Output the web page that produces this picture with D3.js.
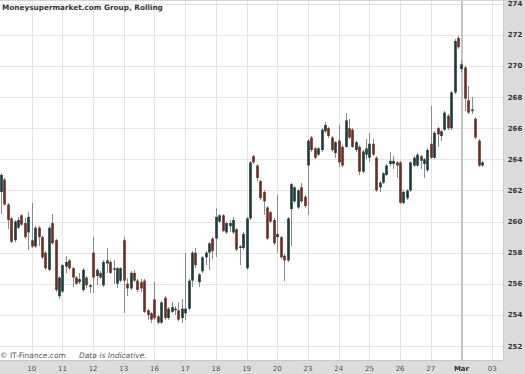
<!DOCTYPE html>
<html lang="en">
<head>
  <meta charset="UTF-8" />
  <title>Moneysupermarket.com Group, Rolling</title>
  <script src="https://d3js.org/d3.v7.min.js"></script>
  <style>
    body { margin: 0; padding: 0; background: #fff; }
    svg { display: block; }
    .grid line { stroke: #e4e4e4; stroke-width: 1px; shape-rendering: crispEdges; }
    .wick { stroke: #8a8a8a; stroke-width: 1px; shape-rendering: crispEdges; }
    .ylab { font: bold 7px "DejaVu Sans", sans-serif; fill: #333; }
    .xlab { font: 7px "DejaVu Sans", sans-serif; fill: #555; }
    .foot { font: 7.5px "DejaVu Sans", sans-serif; fill: #555; }
    .title { font: bold 7.3px "DejaVu Sans", sans-serif; fill: #333; }
  </style>
</head>
<body>
<svg id="chart" width="525" height="374"></svg>
<script>
  // hourly candles, 9 per trading day, from 9 Feb to 2 Mar
  const dayLabels = ["10","11","12","13","16","17","18","19","20","23","24","25","26","27","Mar","03"];
  const slotsPerDay = 9;
  const yTicks = [252,254,256,258,260,262,264,266,268,270,272,274];

  const open = [
    261.9,262.7,261.1,260.2,258.8,259.6,260.4,259.9,259.3,
    258.8,258.4,259.6,259.0,258.0,256.9,259.9,258.8,255.2,
    255.5,257.1,257.5,257.0,256.4,256.1,255.6,256.4,255.8,
    258.0,256.5,256.7,255.9,257.3,257.4,256.9,256.0,256.2,
    258.8,256.0,255.7,256.7,256.2,256.1,256.2,254.3,254.1,
    255.0,253.9,253.5,255.1,253.8,254.2,254.3,254.3,253.8,
    254.1,254.4,256.2,258.0,256.1,256.8,257.7,258.0,258.9,
    258.9,260.0,260.4,259.3,259.7,259.3,259.5,258.3,258.3,
    257.0,260.2,264.2,263.6,262.6,261.9,260.9,260.6,260.1,
    259.0,259.0,257.8,257.5,260.8,261.3,260.9,262.2,261.6,
    263.6,265.4,264.7,264.3,264.6,265.8,266.0,265.4,264.4,
    265.2,264.8,264.8,266.0,265.9,264.6,264.8,263.2,264.3,
    264.1,265.0,264.1,262.2,262.5,263.0,263.7,263.7,263.8,
    263.8,261.2,261.5,262.0,263.6,263.6,264.2,263.7,263.3,
    265.0,264.1,266.0,265.5,265.9,266.8,266.0,268.3,271.8,
    269.8,269.9,267.8,267.1,266.6,265.2,263.6
  ];
  const high = [
    263.1,262.8,261.2,260.3,260.1,260.3,260.5,260.2,260.6,
    261.2,259.7,259.7,259.1,258.1,259.7,260.5,258.9,256.5,
    257.3,257.8,257.6,257.1,256.5,256.7,257.0,256.5,256.0,
    259.0,257.0,256.8,257.5,258.3,257.5,257.5,257.1,257.1,
    259.0,256.4,256.8,256.9,256.3,256.3,256.3,254.4,254.2,
    256.1,254.0,254.9,255.2,254.5,254.8,254.6,254.8,255.0,
    258.0,256.3,258.1,258.3,256.7,257.8,258.1,258.7,259.0,
    260.9,260.5,260.5,260.0,260.1,260.3,259.6,258.5,259.3,
    260.3,263.9,264.3,263.7,262.7,262.0,261.0,260.7,260.2,
    261.7,259.1,257.9,260.3,262.5,262.3,262.1,262.5,261.7,
    265.3,265.5,264.8,264.8,266.0,266.4,266.1,265.5,265.2,
    266.2,264.9,267.0,266.6,266.0,265.2,264.9,264.6,265.3,
    265.7,265.3,264.2,262.6,263.2,263.7,264.5,264.2,263.9,
    263.9,262.0,262.1,263.9,264.2,264.4,264.3,264.1,264.7,
    267.4,265.8,266.1,265.9,267.1,266.9,268.4,271.7,271.9,
    270.4,270.0,268.7,268.0,266.7,265.3,263.9
  ];
  const low = [
    260.5,261.0,259.5,258.6,258.7,259.5,259.7,258.9,258.2,
    258.3,258.3,258.4,257.6,256.9,256.8,258.5,255.5,255.0,
    255.4,256.7,256.9,255.8,255.9,256.0,255.5,255.7,255.4,
    255.4,255.9,256.3,255.8,256.7,256.6,256.0,255.7,256.1,
    254.1,255.2,255.6,256.1,255.5,255.5,254.1,253.7,253.5,
    253.7,253.4,253.4,253.7,253.7,254.1,254.0,253.6,253.5,
    253.7,254.3,255.8,257.0,255.8,256.7,257.2,256.9,257.6,
    257.7,259.9,259.3,259.2,259.3,259.2,258.1,257.2,258.2,
    256.9,260.1,263.7,262.6,261.4,260.4,258.8,259.9,258.5,
    258.0,257.6,256.2,257.4,258.4,261.2,260.8,261.2,260.9,
    260.4,264.5,264.0,264.2,264.5,265.7,265.4,264.5,264.1,
    263.5,263.5,264.7,265.3,264.7,264.5,263.0,263.1,264.0,
    263.8,264.2,261.9,261.9,262.4,262.9,263.6,263.4,262.8,
    261.1,261.1,261.4,261.9,263.5,263.5,263.4,262.8,263.2,
    264.0,264.0,264.8,265.2,265.8,265.9,265.9,268.2,271.1,
    269.6,267.1,266.9,266.9,265.3,263.5,263.5
  ];
  const close = [
    263.0,261.1,260.1,258.7,260.0,260.1,259.8,259.0,260.3,
    258.4,259.6,259.0,257.7,257.0,259.6,258.6,255.6,256.4,
    257.2,257.4,257.0,256.4,256.0,256.3,256.9,255.9,255.9,
    256.4,256.9,256.4,257.4,257.5,256.7,257.0,257.0,257.0,
    256.2,255.7,256.7,256.2,255.6,255.7,254.2,254.0,253.7,
    253.8,253.5,254.8,253.8,254.4,254.5,254.4,253.7,254.4,
    254.4,256.2,258.0,257.2,256.6,257.7,258.0,258.6,258.1,
    260.3,260.4,259.4,259.9,259.9,260.1,258.2,258.4,259.2,
    260.2,263.8,263.8,262.8,261.5,261.3,258.9,260.0,258.6,
    259.2,257.7,257.5,260.2,262.4,262.2,262.0,261.3,261.0,
    265.2,264.6,264.1,264.7,265.9,266.2,265.5,264.6,265.1,
    263.8,263.6,266.5,265.4,264.8,265.1,263.2,264.5,264.7,
    265.0,264.3,262.0,262.5,263.1,263.6,263.9,263.9,263.6,
    261.2,261.9,262.0,263.8,264.1,264.3,263.9,264.0,264.6,
    264.1,265.7,265.6,265.8,267.0,266.0,268.3,271.6,271.2,
    270.1,267.9,267.0,267.2,265.4,263.6,263.8
  ];

  const W = 525, H = 374;
  const plotRight = 503, plotBottom = 360;
  const svg = d3.select("#chart");

  const x = d3.scaleLinear().domain([0, 144]).range([1, 1 + 144 * 3.411]);
  const y = d3.scaleLinear().domain([252, 274]).range([346, 3.7]);

  svg.append("rect").attr("width", W).attr("height", H).attr("fill", "#fff");

  // grid
  const grid = svg.append("g").attr("class", "grid");
  grid.selectAll(".hy").data(yTicks).join("line")
    .attr("x1", 0).attr("x2", plotRight)
    .attr("y1", d => Math.round(y(d)) + 0.5).attr("y2", d => Math.round(y(d)) + 0.5);
  grid.selectAll(".vx").data(dayLabels).join("line")
    .attr("x1", (d, i) => Math.round(x((i + 1) * slotsPerDay)) + 0.5)
    .attr("x2", (d, i) => Math.round(x((i + 1) * slotsPerDay)) + 0.5)
    .attr("y1", 0).attr("y2", plotBottom)
    .style("stroke", d => d === "Mar" ? "#c4c4c4" : null)
    .style("stroke-width", d => d === "Mar" ? 2 : null);

  // candles
  const idx = d3.range(open.length);
  const cg = svg.append("g");
  cg.selectAll(".wick").data(idx).join("line")
    .attr("class", "wick")
    .attr("x1", i => Math.round(x(i)) + 0.5).attr("x2", i => Math.round(x(i)) + 0.5)
    .attr("y1", i => y(high[i])).attr("y2", i => y(low[i]));
  cg.selectAll(".body").data(idx).join("rect")
    .attr("x", i => Math.round(x(i)) - 0.8)
    .attr("width", 2.6)
    .attr("y", i => y(Math.max(open[i], close[i])))
    .attr("height", i => Math.max(1, Math.abs(y(open[i]) - y(close[i]))))
    .attr("fill", i => close[i] >= open[i] ? "#1c3b3a" : "#6b2c22");

  // axis panels
  svg.append("rect").attr("x", plotRight).attr("y", 0).attr("width", W - plotRight).attr("height", H).attr("fill", "#dcdcdc");
  svg.append("rect").attr("x", 0).attr("y", plotBottom).attr("width", W).attr("height", H - plotBottom).attr("fill", "#dcdcdc");
  svg.append("line").attr("x1", plotRight + 0.5).attr("x2", plotRight + 0.5).attr("y1", 0).attr("y2", plotBottom)
    .attr("stroke", "#c8c8c8");
  svg.append("line").attr("x1", 0).attr("x2", plotRight).attr("y1", plotBottom + 0.5).attr("y2", plotBottom + 0.5)
    .attr("stroke", "#c8c8c8");
  svg.append("line").attr("x1", 0).attr("x2", W).attr("y1", 0.5).attr("y2", 0.5).attr("stroke", "#d4d4d4");

  // y labels
  svg.selectAll(".ylab").data(yTicks).join("text")
    .attr("class", "ylab")
    .attr("x", 515).attr("y", d => y(d) + 2.5)
    .attr("text-anchor", "middle")
    .text(d => d);

  // x labels
  svg.selectAll(".xlab").data(dayLabels).join("text")
    .attr("class", "xlab")
    .attr("x", (d, i) => x((i + 1) * slotsPerDay))
    .attr("y", 370.5)
    .attr("text-anchor", "middle")
    .style("font-weight", d => d === "Mar" ? "bold" : null)
    .style("fill", d => d === "Mar" ? "#333" : null)
    .text(d => d);

  svg.append("text").attr("class", "title").attr("x", 2).attr("y", 10)
    .text("Moneysupermarket.com Group, Rolling");

  const foot = svg.append("text").attr("class", "foot").attr("x", 0).attr("y", 358);
  foot.append("tspan").text("© IT-Finance.com");
  foot.append("tspan").attr("x", 79).style("font-style", "italic").text("Data is Indicative.");
</script>
</body>
</html>
